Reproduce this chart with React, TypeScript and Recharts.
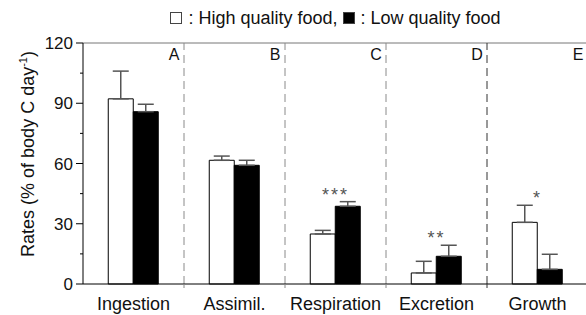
import React from "react";
import {
  ComposedChart,
  Bar,
  Scatter,
  XAxis,
  YAxis,
  ErrorBar,
  ReferenceLine,
} from "recharts";

const categories = ["Ingestion", "Assimil.", "Respiration", "Excretion", "Growth"];
const panels = ["A", "B", "C", "D", "E"];
const highQuality = [92.2, 61.6, 24.9, 5.5, 30.7];
const highErr = [13.8, 2.1, 1.8, 5.8, 8.5];
const lowQuality = [85.8, 59.1, 38.7, 13.8, 7.3];
const lowErr = [3.7, 2.5, 2.3, 5.5, 7.5];
const significance = ["", "", "***", "**", "*"];
const yTicks = [0, 15, 30, 45, 60, 75, 90, 105, 120];

const data = categories.map((name, i) => ({
  name,
  panel: panels[i],
  high: highQuality[i],
  highErr: [0, highErr[i]],
  low: lowQuality[i],
  lowErr: [0, lowErr[i]],
  sig: significance[i],
  sigAt: Math.max(highQuality[i] + highErr[i], lowQuality[i] + lowErr[i]),
}));

// layout
const W = 590;
const H = 315;
const PLOT_TOP = 43;
const AXIS_W = 83;
const X_AXIS_H = 31;
const BAND = 101;
const PLOT_H = H - PLOT_TOP - X_AXIS_H;
const FONT = "'Liberation Sans', Arial, sans-serif";
const SEP_COLORS = ["#8a8a8a", "#8a8a8a", "#8a8a8a", "#333"];

const YTick = (props: any) => {
  const { x, y, payload } = props;
  const major = payload.value % 30 === 0;
  return (
    <g>
      <line x1={x - (major ? 7 : 3)} x2={x} y1={y} y2={y} stroke="#000" />
      {major && (
        <text x={x - 10} y={y + 6} textAnchor="end" fontSize={17} fontFamily={FONT} fill="#111">
          {payload.value}
        </text>
      )}
    </g>
  );
};

const XTick = (props: any) => {
  const { x, y, payload, index } = props;
  return (
    <g>
      {index < 4 && (
        <line x1={x + BAND / 2} x2={x + BAND / 2} y1={y} y2={y + 4} stroke={SEP_COLORS[index]} />
      )}
      <text x={x} y={y + 26} textAnchor="middle" fontSize={18} fontFamily={FONT} fill="#111">
        {payload.value}
      </text>
      <text x={x + 40.5} y={y - PLOT_H + 17} textAnchor="middle" fontSize={16} fontFamily={FONT} fill="#111">
        {panels[index]}
      </text>
    </g>
  );
};

const Star = (props: any) => {
  const { cx, cy, payload } = props;
  if (!payload.sig) return <g />;
  return (
    <text x={cx} y={cy - 1} textAnchor="middle" fontSize={18} letterSpacing={2} fontFamily={FONT} fill="#555">
      {payload.sig}
    </text>
  );
};

const YLabel = () => (
  <text
    transform="translate(34,154) rotate(-90)"
    textAnchor="middle"
    fontSize={18}
    fontFamily={FONT}
    fill="#111"
  >
    Rates (% of body C day
    <tspan fontSize={11} dy={-7}>-1</tspan>
    <tspan dy={7}>)</tspan>
  </text>
);

const Box = ({ fill }: { fill: string }) => (
  <span
    style={{
      display: "inline-block",
      width: 10,
      height: 10,
      border: "1px solid #444",
      background: fill,
      verticalAlign: "0px",
      marginRight: 6,
    }}
  />
);

export default function App() {
  return (
    <div style={{ position: "absolute", left: 0, top: 0, width: 586, height: H, overflow: "hidden", background: "#fff" }}>
      <div
        style={{
          position: "absolute",
          left: AXIS_W,
          top: 8,
          width: BAND * 5,
          textAlign: "center",
          fontFamily: FONT,
          fontSize: 18,
          color: "#111",
          whiteSpace: "nowrap",
        }}
      >
        <Box fill="#fff" />: High quality food, <Box fill="#000" />: Low quality food
      </div>
      <ComposedChart
        width={W}
        height={H}
        data={data}
        margin={{ top: PLOT_TOP, right: 2, bottom: 0, left: 0 }}
        barCategoryGap="25%"
        barGap={0}
      >
        <XAxis
          dataKey="name"
          height={X_AXIS_H}
          axisLine={{ stroke: "#000" }}
          tickLine={false}
          tickSize={0}
          tickMargin={0}
          tick={<XTick />}
          interval={0}
        />
        <YAxis
          width={AXIS_W}
          domain={[0, 120]}
          ticks={yTicks}
          interval={0}
          axisLine={{ stroke: "#000" }}
          tickLine={false}
          tickSize={0}
          tickMargin={0}
          tick={<YTick />}
          label={{ content: <YLabel /> }}
        />
        <ReferenceLine y={120} stroke="#777" />
        {categories.slice(0, 4).map((c, i) => (
          <ReferenceLine key={c} x={c} position="end" stroke={SEP_COLORS[i]} strokeDasharray="8 5" />
        ))}
        <Bar dataKey="high" fill="#fff" stroke="#000" strokeWidth={1} isAnimationActive={false}>
          <ErrorBar dataKey="highErr" direction="y" width={8} stroke="#555" strokeWidth={1.5} />
        </Bar>
        <Bar dataKey="low" fill="#000" stroke="#000" strokeWidth={1} isAnimationActive={false}>
          <ErrorBar dataKey="lowErr" direction="y" width={8} stroke="#555" strokeWidth={1.5} />
        </Bar>
        <Scatter dataKey="sigAt" shape={<Star />} isAnimationActive={false} />
      </ComposedChart>
    </div>
  );
}
